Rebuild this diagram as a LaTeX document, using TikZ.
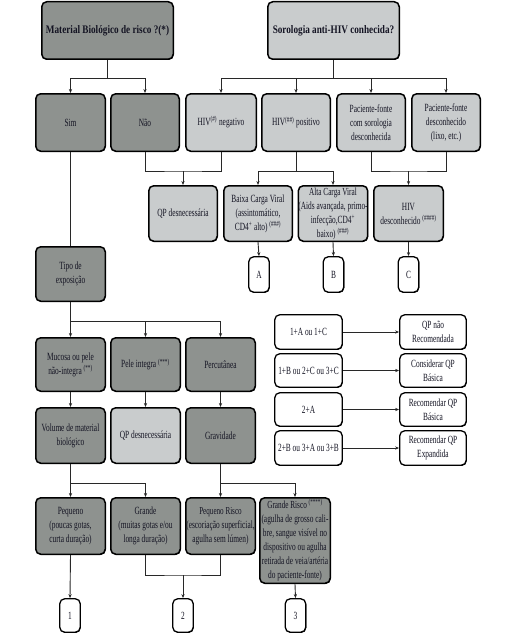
\documentclass[tikz,border=0pt]{standalone}
\usepackage{fontspec}
\setmainfont{Liberation Serif}[FakeStretch=0.67]
\newfontfamily\titlefont{Liberation Serif}[FakeStretch=0.8]
\usetikzlibrary{arrows.meta,shadows}

\definecolor{darkfill}{RGB}{142,146,143}
\definecolor{lightfill}{RGB}{201,204,205}
\definecolor{txt}{RGB}{20,20,35}
\definecolor{wirec}{RGB}{40,40,40}

\tikzset{
 box/.style={draw=black, line width=1.5pt, rounded corners=5pt, inner sep=0pt, align=center, text=txt, font=\fontsize{11}{14}\selectfont,
   drop shadow={shadow xshift=0.5pt, shadow yshift=-0.7pt, fill=black, opacity=1}},
 dbox/.style={box, fill=darkfill},
 lbox/.style={box, fill=lightfill},
 wbox/.style={box, fill=white, line width=1.3pt},
 wire/.style={draw=wirec, line width=0.9pt},
 arr/.style={wire, -{Stealth[length=4pt,width=3.2pt]}},
}
\newcommand\mybox[7]{\node[#1, minimum width=#5pt, minimum height=#6pt] (#2) at (#3,#4) {#7};}

\begin{document}
\begin{tikzpicture}[x=1pt,y=-1pt]
\fill[white] (0,0) rectangle (512,642);
\useasboundingbox (0,0) rectangle (512,642);

% top
\mybox{dbox}{mat}{107.5}{30.5}{131.5}{57.5}{\titlefont\fontsize{11.5}{13}\selectfont\bfseries Material Biológico de risco ?(*)}
\mybox{lbox}{sor}{333.5}{30.5}{131.5}{57.5}{\titlefont\fontsize{11.5}{13}\selectfont\bfseries Sorologia anti-HIV conhecida?}

% row 2
\mybox{dbox}{sim}{70.5}{122.5}{69.5}{57.5}{Sim}
\mybox{dbox}{nao}{145}{122.5}{68.5}{57.5}{Não}
\mybox{lbox}{hneg}{221}{122.5}{70.5}{57.5}{HIV\textsuperscript{(\#)} negativo}
\mybox{lbox}{hpos}{296}{122.5}{68.5}{57.5}{HIV\textsuperscript{(\#\#)} positivo}
\mybox{lbox}{pfs}{371}{122.5}{68.5}{57.5}{Paciente-fonte\\com sorologia\\desconhecida}
\mybox{lbox}{pfd}{446}{122.5}{68.5}{57.5}{Paciente-fonte\\desconhecido\\(lixo, etc.)}

% row 3
\mybox{lbox}{qp1}{183}{213.5}{68.5}{55.5}{QP desnecessária}
\mybox{lbox}{baixa}{258}{213.5}{68.5}{55.5}{Baixa Carga Viral\\(assintomático,\\CD4\textsuperscript{+} alto) \textsuperscript{(\#\#\#)}}
\mybox{lbox}{alta}{333}{213.5}{68.5}{55.5}{\fontsize{10.8}{12}\selectfont Alta Carga Viral\\(Aids avançada, primo-\\infecção,CD4\textsuperscript{+}\\baixo) \textsuperscript{(\#\#\#)}}
\mybox{lbox}{hivd}{408.5}{213.5}{69.5}{55.5}{HIV\\desconhecido \textsuperscript{(\#\#\#\#)}}

\mybox{wbox}{A}{259}{274.5}{20.5}{35.5}{A}
\mybox{wbox}{B}{333.5}{274.5}{20.5}{35.5}{B}
\mybox{wbox}{C}{408.5}{274.5}{20.5}{35.5}{C}

% left column
\mybox{dbox}{tipo}{70.5}{274}{69.5}{54.5}{Tipo de\\exposição}

\mybox{dbox}{muc}{70.5}{364.5}{69.5}{53.5}{Mucosa ou pele\\não-integra \textsuperscript{(**)}}
\mybox{dbox}{pele}{145.5}{364.5}{69.5}{53.5}{Pele integra \textsuperscript{(***)}}
\mybox{dbox}{perc}{220.5}{364.5}{69.5}{53.5}{Percutânea}

\mybox{dbox}{vol}{70.5}{435.5}{69.5}{55.5}{Volume de material\\biológico}
\mybox{lbox}{qp2}{145.5}{435.5}{69.5}{55.5}{QP desnecessária}
\mybox{dbox}{grav}{220.5}{435.5}{69.5}{55.5}{Gravidade}

\mybox{dbox}{peq}{70.5}{526}{69.5}{56.5}{Pequeno\\(poucas gotas,\\curta duração)}
\mybox{dbox}{grande}{145.5}{526}{69.5}{56.5}{Grande\\(muitas gotas e/ou\\longa duração)}
\mybox{dbox}{peqr}{220.5}{526}{69.5}{56.5}{\fontsize{10.6}{14}\selectfont Pequeno Risco\\(escoriação superficial,\\agulha sem lúmen)}
\mybox{dbox}{grisco}{295}{540.5}{70.5}{85.5}{\fontsize{10.8}{13.6}\selectfont Grande Risco \textsuperscript{(****)}\\(agulha de grosso cali-\\bre, sangue visível no\\dispositivo ou agulha\\retirada de veia/artéria\\do paciente-fonte)}

\mybox{wbox}{n1}{70}{615.5}{20.5}{33.5}{1}
\mybox{wbox}{n2}{183}{615.5}{20.5}{33.5}{2}
\mybox{wbox}{n3}{295.5}{615.5}{20.5}{33.5}{3}

% right table
\mybox{wbox}{l1}{308.5}{332}{67.5}{34.5}{1+A ou 1+C}
\mybox{wbox}{l2}{308.5}{370.5}{67.5}{33.5}{1+B ou 2+C ou 3+C}
\mybox{wbox}{l3}{308.5}{409.5}{67.5}{33.5}{2+A}
\mybox{wbox}{l4}{308.5}{448}{67.5}{34.5}{2+B ou 3+A ou 3+B}
\mybox{wbox}{r1}{433}{332}{66.5}{34.5}{QP não\\Recomendada}
\mybox{wbox}{r2}{433}{370.5}{66.5}{33.5}{Considerar QP\\Básica}
\mybox{wbox}{r3}{433}{409.5}{66.5}{33.5}{Recomendar QP\\Básica}
\mybox{wbox}{r4}{433}{448}{66.5}{34.5}{Recomendar QP\\Expandida}

% junction coordinates
\coordinate (b1) at (107.5,78);
\coordinate (b2) at (333.5,78);
\coordinate (m1) at (183,171);
\coordinate (m2) at (296,171);
\coordinate (m3) at (408.5,171);
\coordinate (b3) at (70.5,321);
\coordinate (b4) at (70.5,483);
\coordinate (b5) at (220.5,483);
\coordinate (m4) at (183,575);

% connectors
\draw[wire] (mat.south) -- (b1);
\draw[arr] (b1) -| (sim.north);
\draw[arr] (b1) -| (nao.north);
\draw[wire] (sor.south) -- (b2);
\draw[arr] (b2) -| (hneg.north);
\draw[arr] (b2) -| (hpos.north);
\draw[arr] (b2) -| (pfs.north);
\draw[arr] (b2) -| (pfd.north);

\draw[wire] (nao.south) |- (m1) -| (hneg.south);
\draw[arr] (m1) -- (qp1.north);
\draw[wire] (hpos.south) -- (m2);
\draw[arr] (m2) -| (baixa.north);
\draw[arr] (m2) -| (alta.north);
\draw[wire] (pfs.south) |- (m3) -| (pfd.south);
\draw[arr] (m3) -- (hivd.north);

\draw[arr] (baixa.south) -- (A.north);
\draw[arr] (alta.south) -- (B.north);
\draw[arr] (hivd.south) -- (C.north);

\draw[wire] (sim.south) -- (tipo.north);
\draw[wire] (tipo.south) -- (b3);
\draw[arr] (b3) -- (muc.north);
\draw[arr] (b3) -| (pele.north);
\draw[arr] (b3) -| (perc.north);

\draw[arr] (muc.south) -- (vol.north);
\draw[arr] (pele.south) -- (qp2.north);
\draw[arr] (perc.south) -- (grav.north);

\draw[wire] (vol.south) -- (b4);
\draw[arr] (b4) -- (peq.north);
\draw[arr] (b4) -| (grande.north);
\draw[wire] (grav.south) -- (b5);
\draw[arr] (b5) -- (peqr.north);
\draw[arr] (b5) -| (grisco.north);

\draw[arr] (peq.south) -- (n1.north);
\draw[wire] (grande.south) |- (m4) -| (peqr.south);
\draw[arr] (m4) -- (n2.north);
\draw[arr] (grisco.south) -- (n3.north);

\draw[arr] (l1.east) -- (r1.west);
\draw[arr] (l2.east) -- (r2.west);
\draw[arr] (l3.east) -- (r3.west);
\draw[arr] (l4.east) -- (r4.west);
\end{tikzpicture}
\end{document}
